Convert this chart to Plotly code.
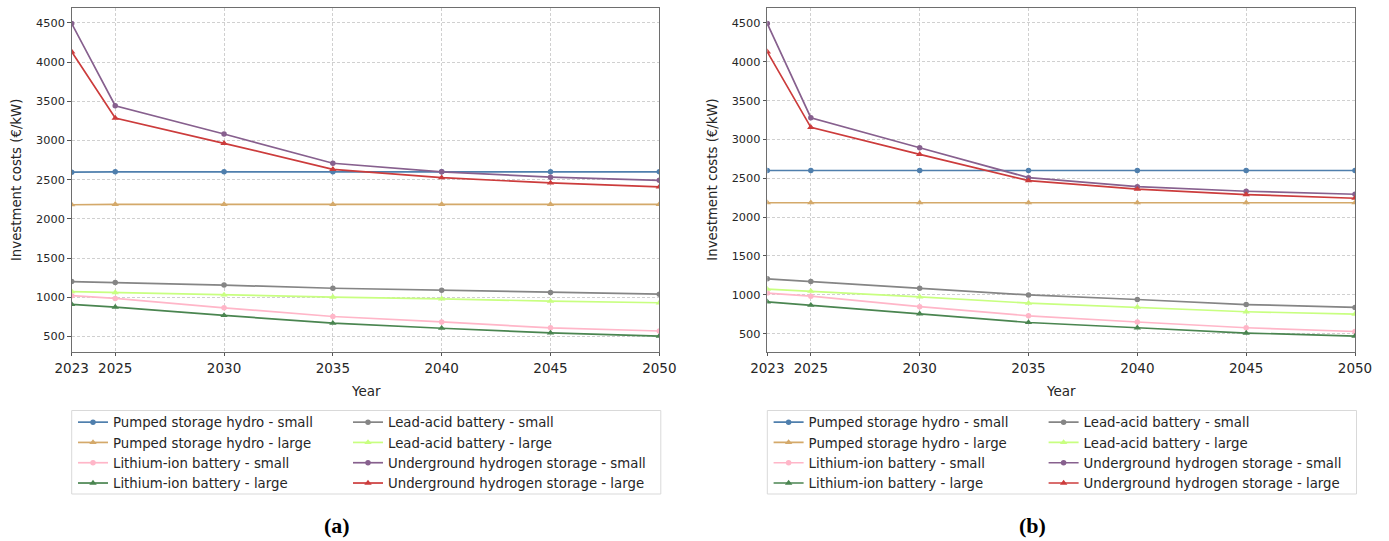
import plotly.graph_objects as go

# Projected investment costs of storage technologies (€/kW), two scenarios
years = [2023, 2025, 2030, 2035, 2040, 2045, 2050]
series_names = [
    "Pumped storage hydro - small",
    "Pumped storage hydro - large",
    "Lithium-ion battery - small",
    "Lithium-ion battery - large",
    "Lead-acid battery - small",
    "Lead-acid battery - large",
    "Underground hydrogen storage - small",
    "Underground hydrogen storage - large",
]

# Scenario (a)
psh_small_a = [2595, 2600, 2600, 2600, 2600, 2600, 2600]
psh_large_a = [2180, 2185, 2185, 2185, 2185, 2185, 2185]
li_small_a = [1020, 985, 865, 755, 685, 610, 570]
li_large_a = [910, 875, 768, 670, 605, 545, 505]
lead_small_a = [1200, 1188, 1155, 1115, 1090, 1060, 1040]
lead_large_a = [1073, 1060, 1030, 1002, 980, 950, 930]
h2_small_a = [4490, 3443, 3082, 2709, 2600, 2532, 2492]
h2_large_a = [4131, 3286, 2963, 2632, 2525, 2458, 2407]

# Scenario (b)
psh_small_b = [2600, 2600, 2600, 2600, 2600, 2600, 2600]
psh_large_b = [2185, 2185, 2185, 2185, 2185, 2185, 2185]
li_small_b = [1022, 983, 848, 730, 650, 576, 528]
li_large_b = [910, 867, 756, 644, 576, 508, 469]
lead_small_b = [1206, 1171, 1086, 998, 940, 875, 838]
lead_large_b = [1073, 1047, 974, 893, 842, 782, 752]
h2_small_b = [4490, 3279, 2893, 2508, 2392, 2333, 2294]
h2_large_b = [4127, 3155, 2808, 2469, 2360, 2290, 2243]

xtick_vals = [2023, 2025, 2030, 2035, 2040, 2045, 2050]
ytick_vals = [500, 1000, 1500, 2000, 2500, 3000, 3500, 4000, 4500]

colors = ["#4f7fad", "#d4a96a", "#ffb6c8", "#4a8550",
          "#858585", "#c8ff80", "#87608e", "#cc3c3c"]
symbols = ["circle", "triangle-up"] * 4

scen_a = [psh_small_a, psh_large_a, li_small_a, li_large_a,
          lead_small_a, lead_large_a, h2_small_a, h2_large_a]
scen_b = [psh_small_b, psh_large_b, li_small_b, li_large_b,
          lead_small_b, lead_large_b, h2_small_b, h2_large_b]

W, H = 1389, 541
FONT = "DejaVu Sans"


def px_x(p):
    return p / W


def px_y(p):
    return (H - p) / H


fig = go.Figure()

panels = [
    dict(data=scen_a, xa="x", ya="y", legends=("legend", "legend2")),
    dict(data=scen_b, xa="x2", ya="y2", legends=("legend3", "legend4")),
]

for panel in panels:
    for i, (name, vals) in enumerate(zip(series_names, panel["data"])):
        fig.add_trace(go.Scatter(
            x=years, y=vals, name=name, mode="lines+markers",
            xaxis=panel["xa"], yaxis=panel["ya"],
            line=dict(color=colors[i], width=1.7),
            marker=dict(color=colors[i], symbol=symbols[i],
                        size=5.5 if symbols[i] == "circle" else 6.5),
            legend=panel["legends"][0] if i < 4 else panel["legends"][1],
        ))

# Plot-area geometry in pixels
left_dom = (71.7, 659.3)
right_dom = (767.3, 1355.0)
y_top, y_bot = 8.0, 351.7


def y_range(series):
    lo = min(min(s) for s in series)
    hi = max(max(s) for s in series)
    pad = 0.05 * (hi - lo)
    return [lo - pad, hi + pad]


axis_common = dict(
    showline=True, linecolor="#6e6e6e", linewidth=1.2, mirror=True,
    ticks="outside", ticklen=3.5, tickwidth=1, tickcolor="#555555",
    showgrid=True, gridcolor="#d0d0d0", griddash="3px,2px", gridwidth=1,
    zeroline=False, automargin=False,
)

fig.update_layout(
    width=W, height=H,
    margin=dict(l=0, r=0, t=0, b=0),
    paper_bgcolor="white", plot_bgcolor="white",
    font=dict(family=FONT, color="#262626"),
    xaxis=dict(domain=[px_x(left_dom[0]), px_x(left_dom[1])], anchor="y",
               range=[2023, 2050], tickvals=xtick_vals,
               tickfont=dict(size=13.5), **axis_common),
    yaxis=dict(domain=[px_y(y_bot), px_y(y_top)], anchor="x",
               range=y_range(scen_a), tickvals=ytick_vals,
               tickfont=dict(size=11.3), **axis_common),
    xaxis2=dict(domain=[px_x(right_dom[0]), px_x(right_dom[1])], anchor="y2",
                range=[2023, 2050], tickvals=xtick_vals,
                tickfont=dict(size=13.5), **axis_common),
    yaxis2=dict(domain=[px_y(y_bot), px_y(y_top)], anchor="x2",
                range=y_range(scen_b), tickvals=ytick_vals,
                tickfont=dict(size=11.3), **axis_common),
    showlegend=True,
)

# Two-column legends below each panel
legend_style = dict(orientation="v", bgcolor="rgba(0,0,0,0)", borderwidth=0,
                    font=dict(size=13.3, family=FONT, color="#262626"),
                    xanchor="left", yanchor="top", y=px_y(407))
fig.update_layout(
    legend=dict(x=px_x(73), **legend_style),
    legend2=dict(x=px_x(348), **legend_style),
    legend3=dict(x=px_x(73 + 695.6), **legend_style),
    legend4=dict(x=px_x(348 + 695.6), **legend_style),
)

shapes = []
annotations = []
for dom, label in [(left_dom, "(a)"), (right_dom, "(b)")]:
    # legend frame
    shapes.append(dict(type="rect", xref="paper", yref="paper",
                       x0=px_x(dom[0]), x1=px_x(dom[1] + 1.5),
                       y0=px_y(494), y1=px_y(410.5),
                       line=dict(color="#d9d9d9", width=1),
                       fillcolor="rgba(0,0,0,0)", layer="below"))
    cx = (dom[0] + dom[1]) / 2
    annotations.append(dict(text="Year", xref="paper", yref="paper",
                            x=px_x(cx), y=px_y(391.5), showarrow=False,
                            xanchor="center", yanchor="middle",
                            font=dict(size=13.5, family=FONT, color="#262626")))
    annotations.append(dict(text="Investment costs (€/kW)", xref="paper", yref="paper",
                            x=px_x(dom[0] - 54.5), y=px_y((y_top + y_bot) / 2),
                            showarrow=False, textangle=-90,
                            xanchor="center", yanchor="middle",
                            font=dict(size=13.3, family=FONT, color="#262626")))
    annotations.append(dict(text="<b>" + label + "</b>", xref="paper", yref="paper",
                            x=px_x(cx - 29), y=px_y(525), showarrow=False,
                            xanchor="center", yanchor="middle",
                            font=dict(size=22, family="Liberation Serif", color="black")))

fig.update_layout(shapes=shapes, annotations=annotations)

fig.write_html("out.html")
